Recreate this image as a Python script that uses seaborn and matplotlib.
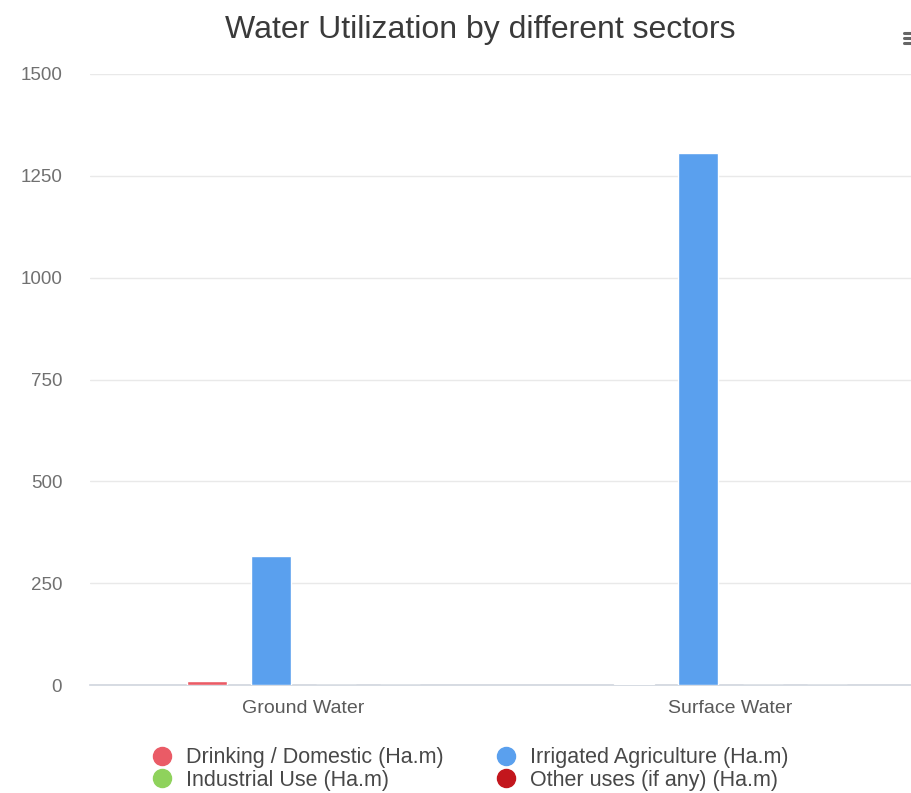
import matplotlib
matplotlib.use("Agg")
import matplotlib.pyplot as plt
from matplotlib.lines import Line2D
import seaborn as sns
import pandas as pd

# Water use per source, in hectare-metres
sources = ["Ground Water", "Surface Water"]
sectors = ["Drinking / Domestic (Ha.m)", "Irrigated Agriculture (Ha.m)",
           "Industrial Use (Ha.m)", "Other uses (if any) (Ha.m)"]
drinking = [10, 2]
irrigated = [317, 1307]
industrial = [0, 0]
other = [0, 0]
y_ticks = [0, 250, 500, 750, 1000, 1250, 1500]

colors = ["#ea5b66", "#5aa0ee", "#8fd25c", "#c3161d"]

rows = []
for sector, vals in zip(sectors, [drinking, irrigated, industrial, other]):
    for src, v in zip(sources, vals):
        rows.append({"source": src, "sector": sector, "value": v})
df = pd.DataFrame(rows)

sns.set_theme(style="white")
plt.rcParams["font.family"] = ["Liberation Sans", "DejaVu Sans"]

fig = plt.figure(figsize=(9.11, 7.93), dpi=100)
ax = fig.add_axes([90 / 911, 108 / 793, 854 / 911, 611 / 793])

sns.barplot(data=df, x="source", y="value", hue="sector", hue_order=sectors,
            palette=colors, width=0.6, gap=0.375, saturation=1, legend=False,
            ax=ax, zorder=3)

ax.set_xlim(-0.5, 1.5)
ax.set_ylim(0, 1500)
ax.set_yticks(y_ticks)
ax.set_yticklabels([str(t) for t in y_ticks], color="#707070", fontsize=13.5)
ax.tick_params(axis="y", length=0, pad=20)
ax.tick_params(axis="x", length=0, pad=11, labelsize=14, labelcolor="#5a5a5a")
ax.set_xlabel("")
ax.set_ylabel("")
ax.yaxis.grid(True, color="#e9e9e9", linewidth=1, zorder=0)
for side in ["top", "right", "left"]:
    ax.spines[side].set_visible(False)
ax.spines["bottom"].set_color("#d0d5de")
ax.spines["bottom"].set_linewidth(1.2)

fig.text(480 / 911, 1 - 30 / 793, "Water Utilization by different sectors",
         ha="center", va="center", fontsize=23, color="#3a3a3a")

# Menu icon in the top-right corner
for yy in [33, 38, 43]:
    fig.add_artist(Line2D([904 / 911, 915 / 911], [1 - yy / 793, 1 - yy / 793],
                          color="#666666", linewidth=2.2))

handles = [Line2D([], [], marker="o", linestyle="", markersize=13,
                  markerfacecolor=c, markeredgecolor=c) for c in colors]
order = [0, 2, 1, 3]
fig.legend([handles[i] for i in order], [sectors[i] for i in order],
           ncol=2, loc="center", bbox_to_anchor=(470 / 911, 1 - 769 / 793),
           frameon=False, fontsize=15.5, labelcolor="#484848",
           handletextpad=0.6, columnspacing=2.4, labelspacing=0.05,
           handlelength=1.0)

fig.savefig("out.png", dpi=100, facecolor="white")
